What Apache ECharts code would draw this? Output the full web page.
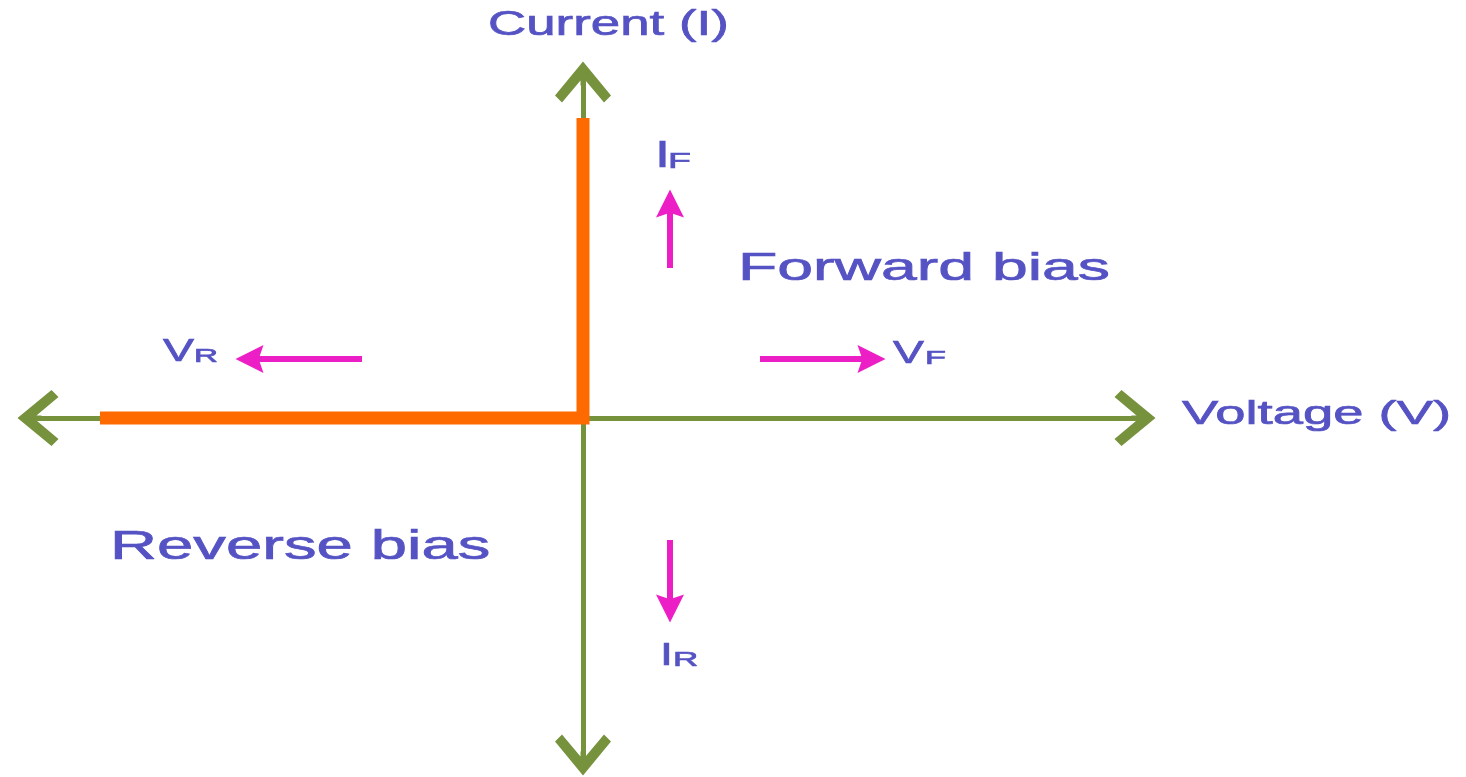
<!DOCTYPE html>
<html>
<head>
<meta charset="utf-8">
<script src="https://cdn.jsdelivr.net/npm/echarts@6/dist/echarts.min.js"></script>
<style>
  html, body { margin: 0; padding: 0; background: #ffffff; }
  #chart { width: 1466px; height: 777px; }
</style>
</head>
<body>
<div id="chart"></div>
<script>
// ideal diode characteristic (arbitrary units, 0 = origin)
const curveV = [-4.83, 0, 0];
const curveI = [0, 0, 3.0];

// direction arrows: VR, VF, IF, IR
const arrowNames = ['VR', 'VF', 'IF', 'IR'];
const arrowFrom = [[-2.21, 0.59], [1.77, 0.59], [0.87, 1.50], [0.87, -1.22]];
const arrowTo = [[-3.335, 0.59], [2.885, 0.59], [0.87, 2.145], [0.87, -1.905]];

const axisNames = ['Voltage (V)', 'Current (I)'];
const regionNames = ['Forward bias', 'Reverse bias'];

const GREEN = '#76923c';
const ORANGE = '#ff6a00';
const MAGENTA = '#ec1fc6';
const TEXT = '#5553c4';
const FONT = '"Liberation Sans", Arial, sans-serif';

const chevron = 'path://M28,0 L56,34 L49,41 L28,16 L7,41 L0,34 Z M25.5,4 L30.5,4 L30.5,24 L25.5,24 Z';
const head = 'path://M14,0 L28,29 L14,24 L0,29 Z';

// text layout (pixels): [text, x, y, fontSize, scaleX]
const textLayout = [
  [axisNames[1], 488, 25.5, 35, 1.51],
  [axisNames[0], 1182, 415, 34, 1.60],
  [regionNames[0], 738, 269, 39, 1.65],
  [regionNames[1], 110, 548, 41, 1.59],
  ['V', 163, 352, 31, 1.5], ['R', 194, 356.5, 19, 1.75],
  ['V', 893, 354, 32, 1.45], ['F', 925, 358.5, 19, 1.8],
  ['I', 655, 157, 36, 1.5], ['F', 668, 162, 22, 1.7],
  ['I', 660, 656, 31, 1.5], ['R', 673, 660, 20, 1.75]
];

const axisBase = {
  type: 'value',
  axisLine: {
    onZero: true,
    symbol: [chevron, chevron],
    symbolSize: [56, 41],
    lineStyle: { color: GREEN, width: 5 }
  },
  axisTick: { show: false },
  axisLabel: { show: false },
  splitLine: { show: false }
};

const chart = echarts.init(document.getElementById('chart'));
chart.setOption({
  backgroundColor: '#ffffff',
  animation: false,
  grid: { left: 38, right: 331, top: 82, bottom: 22 },
  xAxis: Object.assign({}, axisBase, { min: -5.45, max: 5.52 }),
  yAxis: Object.assign({}, axisBase, { min: -3.37, max: 3.36 }),
  series: [
    {
      name: 'I-V',
      type: 'line',
      data: curveV.map((v, i) => [v, curveI[i]]),
      symbol: 'none',
      z: 3,
      lineStyle: { color: ORANGE, width: 13, cap: 'butt', join: 'miter' }
    },
    {
      name: 'directions',
      type: 'lines',
      coordinateSystem: 'cartesian2d',
      symbol: ['none', head],
      symbolSize: 28,
      z: 4,
      lineStyle: { color: MAGENTA, width: 6, opacity: 1, curveness: 0 },
      data: arrowNames.map((n, i) => ({ name: n, coords: [arrowFrom[i], arrowTo[i]] }))
    }
  ],
  graphic: textLayout.map(t => ({
    type: 'text',
    x: t[1],
    y: t[2],
    scaleX: t[4],
    z: 10,
    style: {
      text: t[0],
      fill: TEXT,
      stroke: TEXT,
      lineWidth: 0.7,
      fontSize: t[3],
      fontFamily: FONT,
      align: 'left',
      verticalAlign: 'middle'
    }
  }))
});
window.addEventListener('resize', () => chart.resize());
</script>
</body>
</html>
